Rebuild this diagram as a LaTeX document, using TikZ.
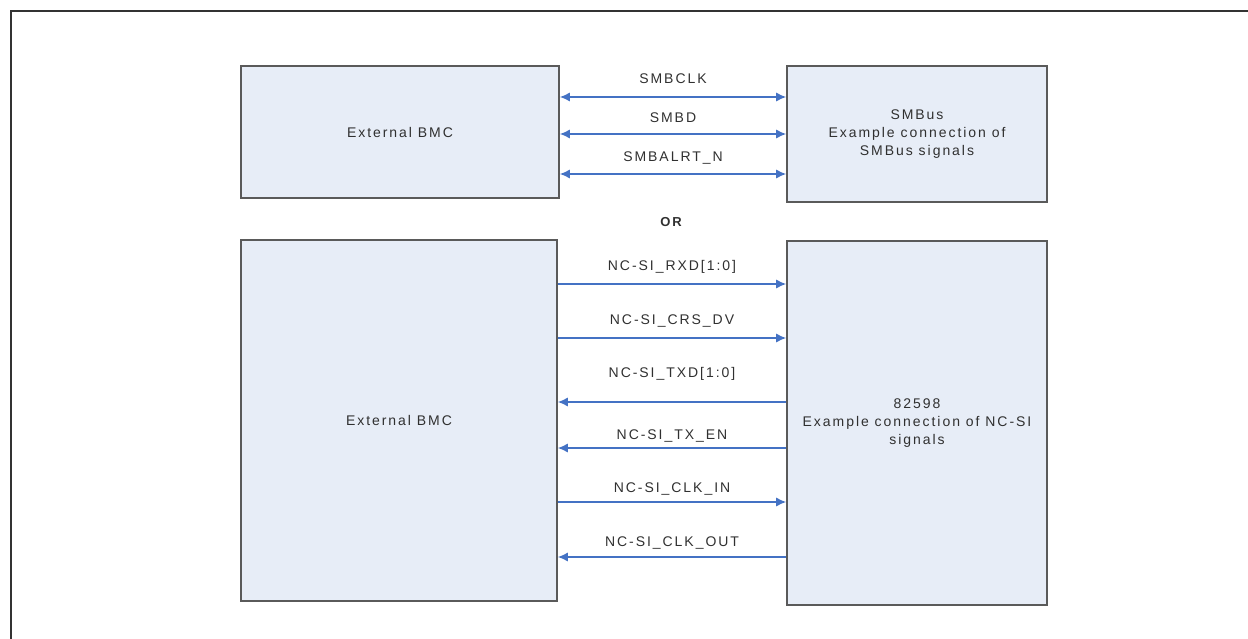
\documentclass[tikz,border=0pt]{standalone}
\usepackage{fontspec}
\setmainfont{Liberation Sans}
\newfontfamily\labfont[LetterSpace=14]{Liberation Sans}
\usetikzlibrary{arrows.meta}
\definecolor{boxfill}{HTML}{E7EDF7}
\definecolor{boxline}{HTML}{5A5A5A}
\definecolor{sigblue}{HTML}{4472C4}
\definecolor{framec}{HTML}{333333}
\definecolor{txt}{HTML}{303030}
\begin{document}
\begin{tikzpicture}[x=1pt,y=-1pt,
  blk/.style={draw=boxline,fill=boxfill,line width=1.6pt,inner sep=0pt,
    font=\labfont\fontsize{14}{18}\selectfont,text=txt,align=center},
  sig/.style={draw=sigblue,line width=1.3pt},
  lbl/.style={font=\labfont\fontsize{14}{18}\selectfont,text=txt,inner sep=0pt}]
\useasboundingbox (0,0) rectangle (1248,639);
\draw[framec,line width=2pt] (11,11) rectangle (1270,680);
% boxes
\node[blk,minimum width=318pt,minimum height=132pt] (bmcA) at (400,132) {External BMC};
\node[blk,minimum width=260pt,minimum height=136pt] (smb) at (917,134) {SMBus\\Example connection of\\SMBus signals};
\node[blk,minimum width=316pt,minimum height=361pt] (bmcB) at (399,420.5) {External BMC};
\node[blk,minimum width=260pt,minimum height=364pt] (ncsi) at (917,423) {82598\\Example connection of NC-SI\\signals};
\node[font=\labfont\bfseries\fontsize{13}{16}\selectfont,text=txt] (or) at (671,222) {OR};
% SMBus signals
\tikzset{tip/.tip={Latex[length=10pt,width=9pt]}}
\draw[sig,{tip}-{tip}] (bmcA.east |- 0,97) -- node[lbl,yshift=18pt] (l1) {SMBCLK} (smb.west |- 0,97);
\draw[sig,{tip}-{tip}] (bmcA.east |- 0,134) -- node[lbl,yshift=16pt] (l2) {SMBD} (smb.west |- 0,134);
\draw[sig,{tip}-{tip}] (bmcA.east |- 0,174) -- node[lbl,yshift=16pt] (l3) {SMBALRT\_N} (smb.west |- 0,174);
% NC-SI signals
\draw[sig,-{tip}] (bmcB.east |- 0,284) -- node[lbl,yshift=17pt] (n1) {NC-SI\_RXD[1:0]} (ncsi.west |- 0,284);
\draw[sig,-{tip}] (bmcB.east |- 0,338) -- node[lbl,yshift=17pt] (n2) {NC-SI\_CRS\_DV} (ncsi.west |- 0,338);
\draw[sig,-{tip}] (ncsi.west |- 0,402) -- node[lbl,yshift=28pt] (n3) {NC-SI\_TXD[1:0]} (bmcB.east |- 0,402);
\draw[sig,-{tip}] (ncsi.west |- 0,448) -- node[lbl,yshift=12pt] (n4) {NC-SI\_TX\_EN} (bmcB.east |- 0,448);
\draw[sig,-{tip}] (bmcB.east |- 0,502) -- node[lbl,yshift=13pt] (n5) {NC-SI\_CLK\_IN} (ncsi.west |- 0,502);
\draw[sig,-{tip}] (ncsi.west |- 0,557) -- node[lbl,yshift=14pt] (n6) {NC-SI\_CLK\_OUT} (bmcB.east |- 0,557);
\end{tikzpicture}
\end{document}
